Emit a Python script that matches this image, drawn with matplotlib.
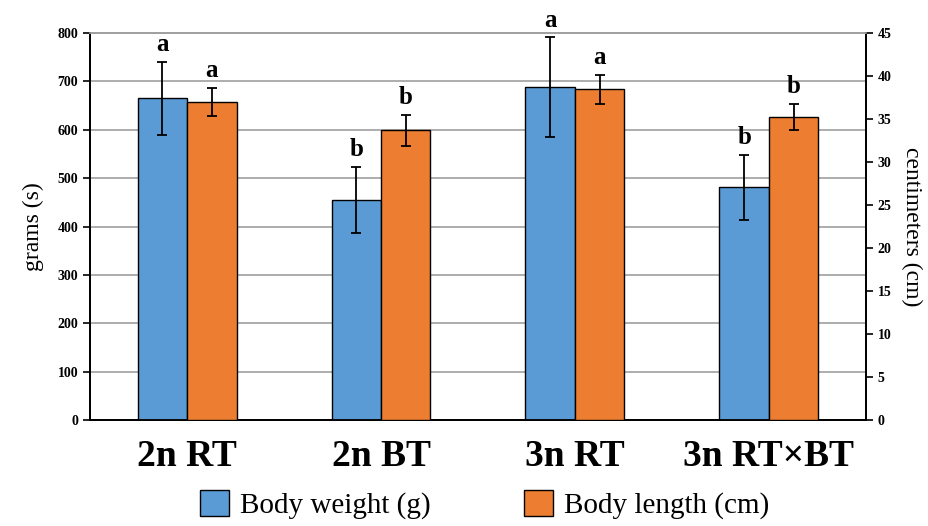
import numpy as np
import matplotlib
matplotlib.use("Agg")
import matplotlib.pyplot as plt
from matplotlib.patches import Patch

plt.rcParams['font.family'] = ['Liberation Serif', 'DejaVu Serif']

# data
groups = ["2n RT", "2n BT", "3n RT", "3n RT\u00d7BT"]
weight = [665, 455, 688, 481]        # grams
weight_err = [75, 68, 103, 67]
length = [37.0, 33.7, 38.45, 35.2]    # cm
length_err = [1.65, 1.8, 1.7, 1.5]
weight_letters = ["a", "b", "a", "b"]
length_letters = ["a", "b", "a", "b"]

blue = "#5b9bd5"
orange = "#ed7d31"

fig = plt.figure(figsize=(9.29, 5.26), dpi=100)
ax1 = fig.add_axes([0.097, 0.2015, 0.835, 0.7355])
ax2 = ax1.twinx()

x = np.arange(len(groups))
w = 0.255

ax1.bar(x - w/2, weight, w, color=blue, edgecolor="black", linewidth=1.0, zorder=3)
ax1.errorbar(x - w/2, weight, yerr=weight_err, fmt="none", ecolor="black",
             elinewidth=1.3, capsize=3.5, capthick=1.3, zorder=4)
ax2.bar(x + w/2, length, w, color=orange, edgecolor="black", linewidth=1.0, zorder=3)
ax2.errorbar(x + w/2, length, yerr=length_err, fmt="none", ecolor="black",
             elinewidth=1.3, capsize=3.5, capthick=1.3, zorder=4)

for i in range(len(groups)):
    ax1.text(x[i] - w/2, weight[i] + weight_err[i] + 12, weight_letters[i],
             ha="center", va="bottom", fontsize=18, fontweight="bold")
    ax2.text(x[i] + w/2, length[i] + length_err[i] + 0.7, length_letters[i],
             ha="center", va="bottom", fontsize=18, fontweight="bold")

ax1.set_xlim(-0.5, 3.5)
ax1.set_ylim(0, 800)
ax2.set_ylim(0, 45)
ax1.set_yticks(np.arange(0, 801, 100))
ax2.set_yticks(np.arange(0, 46, 5))
ax1.yaxis.grid(True, color="#a0a0a0", linewidth=1.2, zorder=0)
ax1.set_axisbelow(True)

ax1.set_xticks(x)
ax1.set_xticklabels(groups, fontsize=27, fontweight="bold")
ax1.tick_params(axis="x", length=0, pad=14)
ax1.tick_params(axis="y", direction="out", length=5, width=1.2, labelsize=10)
ax2.tick_params(axis="y", direction="out", length=5, width=1.2, labelsize=10)
for lab in ax1.get_yticklabels() + ax2.get_yticklabels():
    lab.set_fontweight("bold")

ax1.set_ylabel("grams (s)", fontsize=17, labelpad=10)
ax2.set_ylabel("centimeters (cm)", fontsize=17, rotation=270, labelpad=22)

for ax in (ax1, ax2):
    ax.spines["top"].set_color("#a0a0a0")
    ax.spines["top"].set_linewidth(1.2)
    ax.spines["left"].set_linewidth(1.3)
    ax.spines["right"].set_linewidth(1.3)
    ax.spines["bottom"].set_linewidth(1.3)

handles = [Patch(facecolor=blue, edgecolor="black", label="Body weight (g)"),
           Patch(facecolor=orange, edgecolor="black", label="Body length (cm)")]
fig.legend(handles=handles, loc="center", bbox_to_anchor=(0.5215, 0.04), ncol=2,
           frameon=False, fontsize=21, handlelength=1.0, handleheight=0.95,
           columnspacing=3.2, handletextpad=0.38, borderpad=0)

fig.savefig("out.png", dpi=100)
